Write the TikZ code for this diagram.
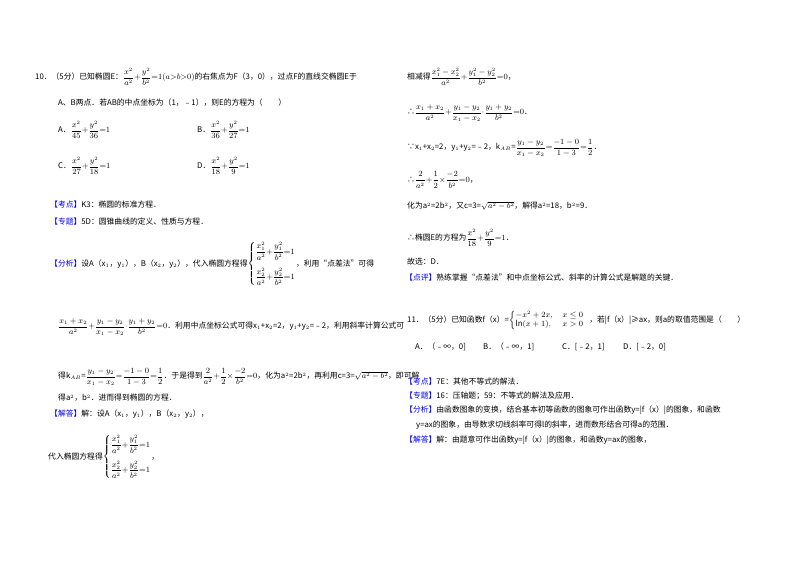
\documentclass[tikz,border=0pt]{standalone}
\usepackage{amsmath}
\usepackage{fontspec}
\setmainfont{Noto Sans CJK SC}
\let\frac\dfrac
\begin{document}
\begin{tikzpicture}[x=1pt,y=-1pt,every node/.style={anchor=west,inner sep=0pt,font=\fontsize{7.8}{8}\selectfont}]
\useasboundingbox[fill=white] (0,0) rectangle (800,565);
\newcommand{\tg}[1]{\textcolor{blue}{【#1】}}
\node (q10) at (35,77) {10．（5分）已知椭圆E：$\frac{x^2}{a^2}{+}\frac{y^2}{b^2}{=}1(a{>}b{>}0)$的右焦点为F（3，0），过点F的直线交椭圆E于};
\node (q10b) at (58,103) {A、B两点．若AB的中点坐标为（1，﹣1），则E的方程为（　　）};
\node (oa) at (58,130) {A．$\frac{x^2}{45}{+}\frac{y^2}{36}{=}1$};
\node (ob) at (197,130) {B．$\frac{x^2}{36}{+}\frac{y^2}{27}{=}1$};
\node (oc) at (58,166) {C．$\frac{x^2}{27}{+}\frac{y^2}{18}{=}1$};
\node (od) at (197,166) {D．$\frac{x^2}{18}{+}\frac{y^2}{9}{=}1$};
\node (k1) at (50,205) {\tg{考点}K3：椭圆的标准方程．};
\node (z1) at (50,222) {\tg{专题}5D：圆锥曲线的定义、性质与方程．};
\node (f1) at (50,264) {\tg{分析}设A（x$_1$，y$_1$），B（x$_2$，y$_2$），代入椭圆方程得$\left\{\begin{aligned}&\frac{x_1^2}{a^2}{+}\frac{y_1^2}{b^2}{=}1\\[4pt]&\frac{x_2^2}{a^2}{+}\frac{y_2^2}{b^2}{=}1\end{aligned}\right.$，利用“点差法”可得};
\node (f2) at (58,327) {$\frac{x_1+x_2}{a^2}{+}\frac{y_1-y_2}{x_1-x_2}{\cdot}\frac{y_1+y_2}{b^2}{=}0$．利用中点坐标公式可得x$_1$+x$_2$=2，y$_1$+y$_2$=﹣2，利用斜率计算公式可};
\node (f3) at (58,377) {得k$_{AB}$=$\frac{y_1-y_2}{x_1-x_2}{=}\frac{-1-0}{1-3}{=}\frac{1}{2}$．于是得到$\frac{2}{a^2}{+}\frac{1}{2}{\times}\frac{-2}{b^2}{=}0$，化为a$^2$=2b$^2$，再利用c=3=$\sqrt{a^2-b^2}$，即可解};
\node (f4) at (58,398) {得a$^2$，b$^2$．进而得到椭圆的方程．};
\node (j1) at (50,414) {\tg{解答}解：设A（x$_1$，y$_1$），B（x$_2$，y$_2$），};
\node (j2) at (48,457) {代入椭圆方程得$\left\{\begin{aligned}&\frac{x_1^2}{a^2}{+}\frac{y_1^2}{b^2}{=}1\\[4pt]&\frac{x_2^2}{a^2}{+}\frac{y_2^2}{b^2}{=}1\end{aligned}\right.$，};
\node (r1) at (407,77) {相减得$\frac{x_1^2-x_2^2}{a^2}{+}\frac{y_1^2-y_2^2}{b^2}{=}0$，};
\node (r2) at (407,113) {∴$\frac{x_1+x_2}{a^2}{+}\frac{y_1-y_2}{x_1-x_2}{\cdot}\frac{y_1+y_2}{b^2}{=}0$．};
\node (r3) at (407,148) {∵x$_1$+x$_2$=2，y$_1$+y$_2$=﹣2，k$_{AB}$=$\frac{y_1-y_2}{x_1-x_2}{=}\frac{-1-0}{1-3}{=}\frac{1}{2}$．};
\node (r4) at (407,180) {∴$\frac{2}{a^2}{+}\frac{1}{2}{\times}\frac{-2}{b^2}{=}0$，};
\node (r5) at (407,206) {化为a$^2$=2b$^2$，又c=3=$\sqrt{a^2-b^2}$，解得a$^2$=18，b$^2$=9．};
\node (r6) at (407,238) {∴椭圆E的方程为$\frac{x^2}{18}{+}\frac{y^2}{9}{=}1$．};
\node (r7) at (407,262) {故选：D．};
\node (r8) at (405,278) {\tg{点评}熟练掌握“点差法”和中点坐标公式、斜率的计算公式是解题的关键．};
\node (q11) at (407,320) {11．（5分）已知函数f（x）=$\left\{\begin{array}{@{}ll}-x^2+2x, & x\le 0\\ \ln(x+1), & x>0\end{array}\right.$，若|f（x）|≥ax，则a的取值范围是（　　）};
\node (pa) at (415,347) {A．（﹣∞，0]};
\node (pb) at (483,347) {B．（﹣∞，1]};
\node (pc) at (562,347) {C．[﹣2，1]};
\node (pd) at (623,347) {D．[﹣2，0]};
\node (k2) at (405,382) {\tg{考点}7E：其他不等式的解法．};
\node (z2) at (405,396) {\tg{专题}16：压轴题；59：不等式的解法及应用．};
\node (f5) at (405,410) {\tg{分析}由函数图象的变换，结合基本初等函数的图象可作出函数y=|f（x）|的图象，和函数};
\node (f6) at (416,425) {y=ax的图象，由导数求切线斜率可得l的斜率，进而数形结合可得a的范围．};
\node (j3) at (405,440) {\tg{解答}解：由题意可作出函数y=|f（x）|的图象，和函数y=ax的图象，};
\end{tikzpicture}
\end{document}
